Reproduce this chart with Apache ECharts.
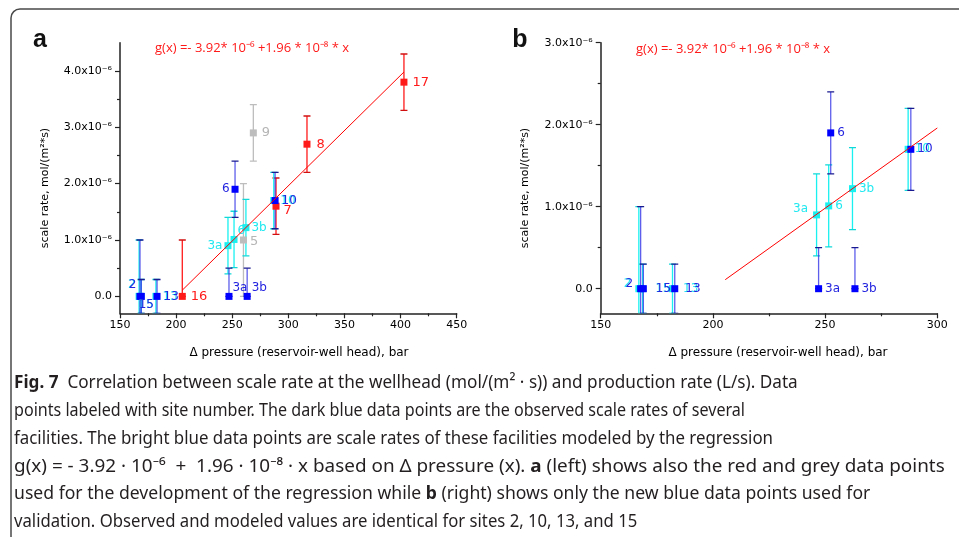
<!DOCTYPE html>
<html><head><meta charset="utf-8">
<script src="https://cdn.jsdelivr.net/npm/echarts@6/dist/echarts.min.js"></script>
<style>html,body{margin:0;padding:0;background:#fff}#c{width:959px;height:537px}</style>
</head><body><div id="c"></div>
<script>
// ---------- DATA (values in units of 1e-6 mol/(m^2*s)) ----------
// Panel a: red points (regression development)
const redX = [205.5, 289, 316.6, 403];
const redY = [0, 1.6, 2.7, 3.8];
const redLo = [0, 1.1, 2.2, 3.3];
const redHi = [1.0, 2.1, 3.2, 4.3];
const redSites = ['16', '7', '8', '17'];
// Panel a: grey points
const greyX = [260, 268.8];
const greyY = [1.0, 2.9];
const greyLo = [0.0, 2.4];
const greyHi = [2.0, 3.4];
const greySites = ['5', '9'];
// Modeled (bright blue / cyan) points, both panels
const modX = [167, 168.7, 182, 246.2, 251.6, 262.2, 287];
const modY = [0, 0, 0, 0.9, 1.01, 1.22, 1.7];
const modLo = [-1.0, -0.3, -0.3, 0.4, 0.51, 0.72, 1.2];
const modHi = [1.0, 0.3, 0.3, 1.4, 1.51, 1.72, 2.2];
const modSites = ['2', '15', '13', '3a', '6', '3b', '10'];
// Observed (dark blue) points, both panels
const obsX = [167.8, 169, 183, 247.1, 252.5, 263.3, 288.2];
const obsY = [0, 0, 0, 0, 1.9, 0, 1.7];
const obsLo = [-1.0, -0.3, -0.3, 0, 1.4, 0, 1.2];
const obsHi = [1.0, 0.3, 0.3, 0.5, 2.4, 0.5, 2.2];
const obsSites = ['2', '15', '13', '3a', '6', '3b', '10'];
// Regression line g(x) end points as drawn
const aLine = [[205.5, 0.11], [403, 3.98]];
const bLine = [[205.5, 0.11], [300, 1.96]];
// Axes
const aXTicks = [150, 200, 250, 300, 350, 400, 450];
const bXTicks = [150, 200, 250, 300];
const aYTicks = [0, 1, 2, 3, 4];
const bYTicks = [0, 1, 2, 3];
const aYRange = [-0.3, 4.5];
const bYRange = [-0.3, 3.0];
const equationText = 'g(x) =- 3.92* 10\u207B\u2076 +1.96 * 10\u207B\u2078 * x';
const yTitle = 'scale rate, mol/(m\u00B2*s)';
const xTitle = '\u0394 pressure (reservoir-well head), bar';
const captionLines = [
  '{b|Fig. 7}  Correlation between scale rate at the wellhead (mol/(m\u00B2 \u00B7 s)) and production rate (L/s). Data',
  'points labeled with site number. The dark blue data points are the observed scale rates of several',
  'facilities. The bright blue data points are scale rates of these facilities modeled by the regression',
  'g(x) = - 3.92 \u00B7 10\u207B\u2076  +  1.96 \u00B7 10\u207B\u2078 \u00B7 x based on \u0394 pressure (x). {b|a} (left) shows also the red and grey data points',
  'used for the development of the regression while {b|b} (right) shows only the new blue data points used for',
  'validation. Observed and modeled values are identical for sites 2, 10, 13, and 15'
];

// ---------- LAYOUT ----------
const GA = {left: 120, top: 42.7, width: 336.7, height: 270.6};
const GB = {left: 600.7, top: 42.7, width: 336.6, height: 270.6};
function labelGrid(g, range, ticks) {
  const k = g.height / (range[1] - range[0]);
  const tmax = ticks[ticks.length - 1], tmin = ticks[0];
  return {left: g.left, width: g.width, top: g.top + (range[1] - tmax) * k, height: (tmax - tmin) * k};
}
const FONT = 'DejaVu Sans';
const AX = '#222';
const RED = '#ff1a1a', GREY = '#bdbdbd', CYAN = '#19f0f0', BLUE = '#0000ff';

function yFmt(v) { return Math.abs(v) < 1e-9 ? '0.0' : v.toFixed(1) + 'x10\u207B\u2076'; }

function dataAxes(g, xt, yr, gi) {
  return {
    x: {type: 'value', gridIndex: gi, min: xt[0], max: xt[xt.length - 1], interval: xt[1] - xt[0],
      axisLine: {show: true, onZero: false, lineStyle: {color: AX, width: 1.5}},
      axisTick: {show: true, length: 5, lineStyle: {color: AX, width: 1.2}},
      minorTick: {show: true, splitNumber: 2, length: 3, lineStyle: {color: AX, width: 1.2}},
      splitLine: {show: false},
      axisLabel: {fontSize: 11, color: '#000', fontFamily: FONT, margin: 6}},
    y: {type: 'value', gridIndex: gi, min: yr[0], max: yr[1],
      axisLine: {show: true, onZero: false, lineStyle: {color: AX, width: 1.5}},
      axisTick: {show: false}, axisLabel: {show: false}, splitLine: {show: false}}
  };
}
function labelAxes(xt, yt, gi) {
  return {
    x: {type: 'value', gridIndex: gi, show: false, min: xt[0], max: xt[xt.length - 1]},
    y: {type: 'value', gridIndex: gi, min: yt[0], max: yt[yt.length - 1], interval: yt[1] - yt[0],
      axisLine: {show: false},
      axisTick: {show: true, length: 5, lineStyle: {color: AX, width: 1.2}},
      minorTick: {show: true, splitNumber: 2, length: 3, lineStyle: {color: AX, width: 1.2}},
      splitLine: {show: false},
      axisLabel: {fontSize: 11, color: '#000', fontFamily: FONT, margin: 8, formatter: yFmt}}
  };
}
const dA = dataAxes(GA, aXTicks, aYRange, 0);
const lA = labelAxes(aXTicks, aYTicks, 1);
const dB = dataAxes(GB, bXTicks, bYRange, 2);
const lB = labelAxes(bXTicks, bYTicks, 3);

// label placements per panel/group
const LPOS = {
  a: {
    red: {'16': {p: 'right', d: 5}, '7': {p: 'right', d: 4, o: [0, 4]}, '8': {p: 'right', d: 6}, '17': {p: 'right', d: 5}},
    grey: {'5': {p: 'right', d: 3, o: [0, 2]}, '9': {p: 'right', d: 5}},
    mod: {'2': {p: 'left', d: 0, o: [0, -12]}, '15': {p: 'bottom', d: -1, o: [5, 0]}, '13': {p: 'right', d: 3},
          '3a': {p: 'left', d: 2}, '6': {p: 'right', d: 0, o: [0, -9]}, '3b': {p: 'right', d: 2}, '10': {p: 'right', d: 3}},
    obs: {'2': {p: 'left', d: 0, o: [0, -12]}, '15': {p: 'bottom', d: -1, o: [5, 0]}, '13': {p: 'right', d: 3},
          '3a': {p: 'right', d: 0, o: [0, -9]}, '6': {p: 'left', d: 2}, '3b': {p: 'right', d: 1, o: [0, -9]}, '10': {p: 'right', d: 3}}
  },
  b: {
    mod: {'2': {p: 'left', d: 4, o: [0, -5]}, '15': {p: 'right', d: 9}, '13': {p: 'right', d: 7},
          '3a': {p: 'left', d: 5, o: [0, -6]}, '6': {p: 'right', d: 3}, '3b': {p: 'right', d: 3}, '10': {p: 'right', d: 3}},
    obs: {'2': {p: 'left', d: 4, o: [0, -5]}, '15': {p: 'right', d: 9}, '13': {p: 'right', d: 7},
          '3a': {p: 'right', d: 3}, '6': {p: 'right', d: 3}, '3b': {p: 'right', d: 3}, '10': {p: 'right', d: 3}}
  }
};

function errSeries(xs, lo, hi, ax, color, capColor, width) {
  return {
    type: 'custom', xAxisIndex: ax, yAxisIndex: ax, clip: true, silent: true,
    data: xs.map((x, i) => [x, lo[i], hi[i]]),
    encode: {x: 0, y: [1, 2]},
    renderItem: function (params, api) {
      const x = api.value(0), l = api.value(1), h = api.value(2);
      const a = api.coord([x, l]), b = api.coord([x, h]);
      const w = 3.5;
      const st = {stroke: color, lineWidth: width || 1.3};
      const cs = {stroke: capColor, lineWidth: 1.3};
      return {type: 'group', children: [
        {type: 'line', shape: {x1: a[0], y1: a[1], x2: b[0], y2: b[1]}, style: st},
        {type: 'line', shape: {x1: b[0] - w, y1: b[1], x2: b[0] + w, y2: b[1]}, style: cs},
        {type: 'line', shape: {x1: a[0] - w, y1: a[1], x2: a[0] + w, y2: a[1]}, style: cs}
      ]};
    }
  };
}
function ptSeries(xs, ys, sites, ax, color, lblColor, pos, fs) {
  return {
    type: 'scatter', xAxisIndex: ax, yAxisIndex: ax, symbol: 'rect', symbolSize: 7,
    itemStyle: {color: color, opacity: 1}, clip: true,
    data: xs.map((x, i) => {
      const p = pos[sites[i]] || {};
      return {name: sites[i], value: [x, ys[i]],
        label: {show: true, position: p.p || 'right', distance: p.d == null ? 3 : p.d, offset: p.o || [0, 0]}};
    }),
    label: {show: true, formatter: '{b}', color: lblColor, fontSize: fs || 12, fontFamily: FONT},
    emphasis: {disabled: true}
  };
}
function lineSeries(pts, ax) {
  return {type: 'line', xAxisIndex: ax, yAxisIndex: ax, data: pts, showSymbol: false, symbol: 'none',
    lineStyle: {color: '#ff0000', width: 1}, silent: true};
}

const series = [
  lineSeries(aLine, 0),
  errSeries(greyX, greyLo, greyHi, 0, GREY, GREY),
  ptSeries(greyX, greyY, greySites, 0, GREY, '#b5b5b5', LPOS.a.grey, 13),
  errSeries(redX, redLo, redHi, 0, RED, '#d01010'),
  ptSeries(redX, redY, redSites, 0, RED, RED, LPOS.a.red, 13),
  errSeries(modX, modLo, modHi, 0, CYAN, '#10d8d8'),
  ptSeries(modX, modY, modSites, 0, CYAN, '#22e8f0', LPOS.a.mod, 12),
  errSeries(obsX, obsLo, obsHi, 0, 'rgba(40,40,230,0.75)', '#1a1a90'),
  ptSeries(obsX, obsY, obsSites, 0, BLUE, '#2525e0', LPOS.a.obs, 12),

  lineSeries(bLine, 2),
  errSeries(modX, modLo, modHi, 2, CYAN, '#10d8d8'),
  ptSeries(modX, modY, modSites, 2, CYAN, '#22e8f0', LPOS.b.mod, 12),
  errSeries(obsX, obsLo, obsHi, 2, 'rgba(40,40,230,0.75)', '#1a1a90'),
  ptSeries(obsX, obsY, obsSites, 2, BLUE, '#2525e0', LPOS.b.obs, 12)
];

// caption: condense each line horizontally to the reference line ends
const CAP_FONT = 'Noto Sans', CAP_SIZE = 18, CAP_COLOR = '#231f20';
const capY = [383, 411, 439, 467, 494, 522];
const capEnds = [796, 745, 773, 944, 870, null];
const cv = document.createElement('canvas').getContext('2d');
function plain(s) { return s.replace(/\{\w+\|([^}]*)\}/g, '$1'); }
cv.font = CAP_SIZE + 'px "' + CAP_FONT + '"';
const capScales = captionLines.map((s, i) => capEnds[i] ? (capEnds[i] - 14) / cv.measureText(plain(s)).width : null);
const baseScale = (capScales[0] + capScales[1] + capScales[2]) / 3;
const capGraphics = captionLines.map((s, i) => ({
  type: 'text', x: 14, y: capY[i], scaleX: capScales[i] || baseScale, scaleY: 1,
  style: {text: s, fontSize: CAP_SIZE, fontFamily: CAP_FONT, fill: CAP_COLOR, verticalAlign: 'middle', align: 'left',
    rich: {b: {fontWeight: 'bold', fontSize: CAP_SIZE, fontFamily: CAP_FONT, fill: CAP_COLOR}}}
}));

const graphic = [
  {type: 'rect', shape: {x: 11, y: 9, width: 1000, height: 540, r: 9}, style: {fill: 'none', stroke: '#4a4a4a', lineWidth: 1.5}},
  {type: 'text', x: 40, y: 40, style: {text: 'a', fontSize: 25, fontWeight: 'bold', fontFamily: 'Liberation Sans', fill: '#111', align: 'center', verticalAlign: 'middle'}},
  {type: 'text', x: 520, y: 40, style: {text: 'b', fontSize: 25, fontWeight: 'bold', fontFamily: 'Liberation Sans', fill: '#111', align: 'center', verticalAlign: 'middle'}},
  {type: 'text', x: 155, y: 48, style: {text: equationText, fontSize: 13, fontFamily: 'Open Sans', fill: '#ff1a1a', align: 'left', verticalAlign: 'middle'}},
  {type: 'text', x: 636, y: 49, style: {text: equationText, fontSize: 13, fontFamily: 'Open Sans', fill: '#ff1a1a', align: 'left', verticalAlign: 'middle'}},
  {type: 'text', x: 45, y: 188, rotation: Math.PI / 2, style: {text: yTitle, fontSize: 11, fontFamily: FONT, fill: '#000', align: 'center', verticalAlign: 'middle'}},
  {type: 'text', x: 525, y: 188, rotation: Math.PI / 2, style: {text: yTitle, fontSize: 11, fontFamily: FONT, fill: '#000', align: 'center', verticalAlign: 'middle'}},
  {type: 'text', x: 299, y: 353, style: {text: xTitle, fontSize: 12, fontFamily: FONT, fill: '#000', align: 'center', verticalAlign: 'middle'}},
  {type: 'text', x: 778, y: 353, style: {text: xTitle, fontSize: 12, fontFamily: FONT, fill: '#000', align: 'center', verticalAlign: 'middle'}}
].concat(capGraphics);

const chart = echarts.init(document.getElementById('c'), null, {renderer: 'canvas', width: 959, height: 537});
chart.setOption({
  animation: false,
  backgroundColor: '#fff',
  grid: [
    Object.assign({containLabel: false}, GA),
    Object.assign({containLabel: false}, labelGrid(GA, aYRange, aYTicks)),
    Object.assign({containLabel: false}, GB),
    Object.assign({containLabel: false}, labelGrid(GB, bYRange, bYTicks))
  ],
  xAxis: [dA.x, lA.x, dB.x, lB.x],
  yAxis: [dA.y, lA.y, dB.y, lB.y],
  series: series,
  graphic: graphic
});
</script>
</body></html>
